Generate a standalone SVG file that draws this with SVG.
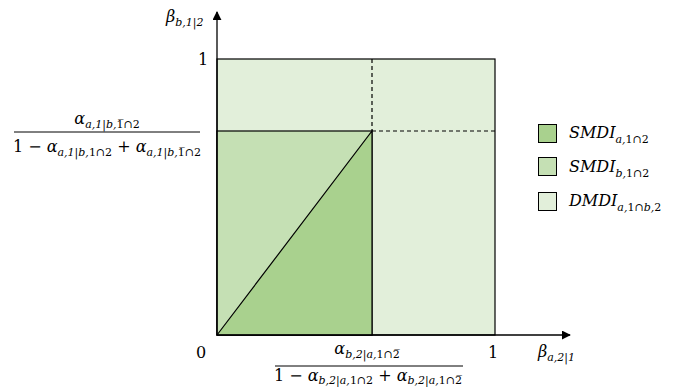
<svg xmlns="http://www.w3.org/2000/svg" width="673" height="387" viewBox="0 0 673 387">
<defs>
<marker id="arr" viewBox="0 0 10 10" refX="9" refY="5" markerWidth="9" markerHeight="9" markerUnits="userSpaceOnUse" orient="auto">
<path d="M0,0 L10,5 L0,10 z" fill="#000"/>
</marker>
<style>
.t{font-family:"DejaVu Serif","Liberation Serif",serif;font-size:16px;fill:#000}
.i{font-style:italic}
.s{font-size:11px}
.sq{stroke:#000;stroke-width:1}
</style>
</defs>
<rect width="673" height="387" fill="#fff"/>
<g id="regions">
<rect id="dmdi-region" x="217" y="59" width="278" height="276" fill="#E2EFDA" stroke="#000" stroke-width="1.2"/>
<rect id="smdi-b-region" x="217" y="131" width="155" height="204" fill="#C5E0B4" stroke="#000" stroke-width="1.2"/>
<polygon id="smdi-a-region" points="217,335 372,131 372,335" fill="#A9D18E" stroke="#000" stroke-width="1.2"/>
</g>
<g id="connectors" stroke="#000" fill="none">
<line x1="372" y1="59" x2="372" y2="131" stroke-dasharray="4,3" stroke-width="1.2"/>
<line x1="372" y1="131" x2="495" y2="131" stroke-dasharray="4,3" stroke-width="1.2"/>
<line x1="217" y1="335" x2="217" y2="12" stroke-width="1.3" marker-end="url(#arr)"/>
<line x1="217" y1="335" x2="570" y2="335" stroke-width="1.3" marker-end="url(#arr)"/>
<line x1="14" y1="132" x2="200" y2="132" stroke-width="1"/>
<line x1="275" y1="366" x2="463" y2="366" stroke-width="1"/>
</g>
<g id="axis-labels">
<text class="t i" x="166" y="22">β<tspan class="s" dy="4">b,1|2</tspan></text>
<text class="t" x="203" y="65" text-anchor="middle">1</text>
<text class="t" x="201" y="358" text-anchor="middle">0</text>
<text class="t" x="493" y="358" text-anchor="middle">1</text>
<text class="t i" x="538" y="357">β<tspan class="s" dy="4">a,2|1</tspan></text>
</g>
<g id="frac-left">
<text class="t" x="107" y="124" text-anchor="middle"><tspan class="i">α</tspan><tspan class="s i" dy="4">a,1|b,</tspan><tspan class="s" font-style="normal">1̅∩2</tspan></text>
<text class="t" x="107" y="152" text-anchor="middle">1 − <tspan class="i">α</tspan><tspan class="s i" dy="4">a,1|b,</tspan><tspan class="s">1∩2</tspan><tspan dy="-4"> + </tspan><tspan class="i">α</tspan><tspan class="s i" dy="4">a,1|b,</tspan><tspan class="s">1̅∩2</tspan></text>
</g>
<g id="frac-bottom">
<text class="t" x="367" y="354" text-anchor="middle"><tspan class="i">α</tspan><tspan class="s i" dy="4">b,2|a,</tspan><tspan class="s">1∩2̅</tspan></text>
<text class="t" x="368" y="381" text-anchor="middle">1 − <tspan class="i">α</tspan><tspan class="s i" dy="3">b,2|a,</tspan><tspan class="s">1∩2</tspan><tspan dy="-3"> + </tspan><tspan class="i">α</tspan><tspan class="s i" dy="3">b,2|a,</tspan><tspan class="s">1∩2̅</tspan></text>
</g>
<g id="legend-smdi-a">
<rect class="sq" x="538.5" y="124.5" width="18" height="18" fill="#A9D18E"/>
<text class="t i" x="569" y="138">SMDI<tspan class="s" dy="5">a,</tspan><tspan class="s" font-style="normal">1∩2</tspan></text>
</g>
<g id="legend-smdi-b">
<rect class="sq" x="538.5" y="157.5" width="18" height="18" fill="#C5E0B4"/>
<text class="t i" x="569" y="172">SMDI<tspan class="s" dy="5">b,</tspan><tspan class="s" font-style="normal">1∩2</tspan></text>
</g>
<g id="legend-dmdi">
<rect class="sq" x="538.5" y="192.5" width="18" height="18" fill="#E2EFDA"/>
<text class="t i" x="569" y="206">DMDI<tspan class="s" dy="5">a,</tspan><tspan class="s" font-style="normal">1∩</tspan><tspan class="s">b,</tspan><tspan class="s" font-style="normal">2</tspan></text>
</g>
</svg>
